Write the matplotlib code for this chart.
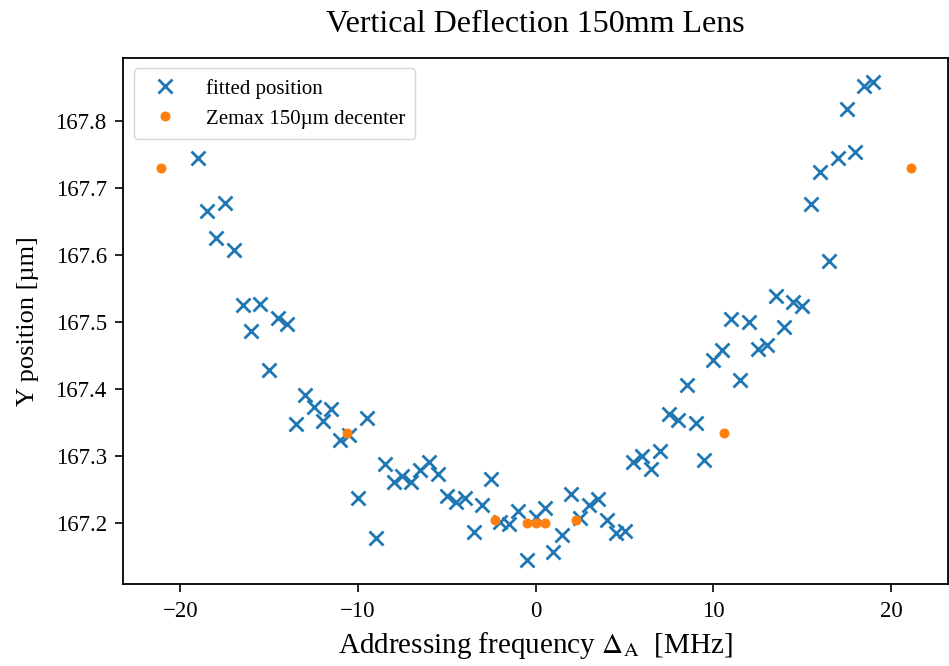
import matplotlib
matplotlib.use("Agg")
import matplotlib.pyplot as plt
import numpy as np

plt.rcParams['font.family'] = ['Liberation Serif', 'DejaVu Serif']
plt.rcParams['mathtext.fontset'] = 'stix'

freq_fit = [-19.0, -18.5, -18.0, -17.5, -17.0, -16.5, -16.0, -15.5, -15.0, -14.5,
            -14.0, -13.5, -13.0, -12.5, -12.0, -11.5, -11.0, -10.5, -10.0, -9.5,
            -9.0, -8.5, -8.0, -7.5, -7.0, -6.5, -6.0, -5.5, -5.0, -4.5,
            -4.0, -3.5, -3.0, -2.5, -2.0, -1.5, -1.0, -0.5, 0.0, 0.5,
            1.0, 1.5, 2.0, 2.5, 3.0, 3.5, 4.0, 4.5, 5.0, 5.5,
            6.0, 6.5, 7.0, 7.5, 8.0, 8.5, 9.0, 9.5, 10.0, 10.5,
            11.0, 11.5, 12.0, 12.5, 13.0, 13.5, 14.0, 14.5, 15.0, 15.5,
            16.0, 16.5, 17.0, 17.5, 18.0, 18.5, 19.0]
ypos_fit = [167.744, 167.665, 167.625, 167.677, 167.607, 167.525, 167.486, 167.527, 167.429, 167.506,
            167.497, 167.348, 167.391, 167.373, 167.353, 167.371, 167.324, 167.332, 167.238, 167.357,
            167.178, 167.289, 167.262, 167.271, 167.262, 167.279, 167.292, 167.273, 167.240, 167.231,
            167.238, 167.187, 167.227, 167.266, 167.202, 167.199, 167.218, 167.145, 167.210, 167.223,
            167.157, 167.182, 167.243, 167.208, 167.227, 167.236, 167.205, 167.186, 167.188, 167.291,
            167.300, 167.281, 167.308, 167.363, 167.354, 167.406, 167.350, 167.295, 167.443, 167.458,
            167.504, 167.413, 167.500, 167.460, 167.466, 167.539, 167.493, 167.530, 167.524, 167.676,
            167.724, 167.591, 167.744, 167.817, 167.753, 167.852, 167.858]

freq_zemax = [-21.1, -10.6, -2.28, -0.5, 0.0, 0.5, 2.28, 10.6, 21.1]
ypos_zemax = [167.730, 167.334, 167.205, 167.200, 167.200, 167.200, 167.205, 167.334, 167.730]

fig = plt.figure(figsize=(9.49, 6.66), dpi=100)
ax = fig.add_axes([0.130, 0.123, 0.869, 0.790])

ax.plot(freq_fit, ypos_fit, 'x', color='#1f77b4', markersize=9.5, markeredgewidth=2.0,
        label='fitted position')
ax.plot(freq_zemax, ypos_zemax, 'o', color='#ff7f0e', markersize=6.2,
        label='Zemax 150µm decenter')

ax.set_title('Vertical Deflection 150mm Lens', fontsize=23, pad=19)
ax.set_xlabel(r'Addressing frequency $\Delta_\mathrm{A}$  [MHz]', fontsize=21, labelpad=6)
ax.set_ylabel('Y position [µm]', fontsize=19, labelpad=12)
ax.set_xticks([-20, -10, 0, 10, 20])
ax.set_yticks([167.2, 167.3, 167.4, 167.5, 167.6, 167.7, 167.8])
ax.tick_params(labelsize=16.5, length=6, width=1.2, pad=6)
for s in ax.spines.values():
    s.set_linewidth(1.3)
ax.legend(loc='upper left', fontsize=15, handletextpad=0.95, borderpad=0.5)

fig.savefig('out.png', dpi=100)
